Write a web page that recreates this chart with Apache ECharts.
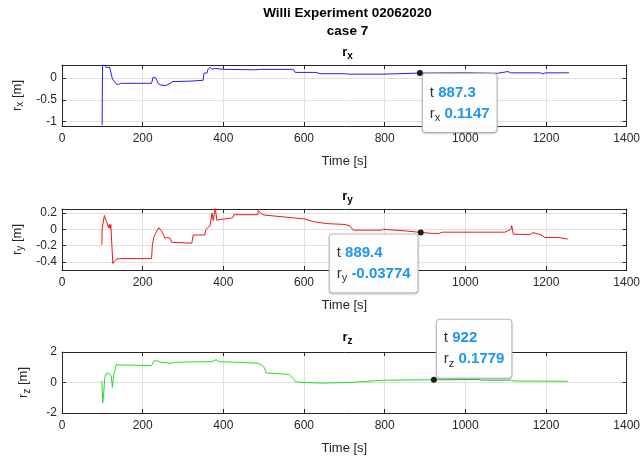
<!DOCTYPE html>
<html><head><meta charset="utf-8">
<script src="https://cdn.jsdelivr.net/npm/echarts@6/dist/echarts.min.js"></script>
<style>html,body{margin:0;padding:0;background:#fff}#c{width:643px;height:456px}</style>
</head><body><div id="c"></div>
<script>
// ---- data ----
const rxT = [99.5,100.5,104,107,110,113,118,122,125,130,135,140,145,222,226,230,233,238,244,258,268,275,320,350,352,360,362,367,372,380,400,480,490,574,578,630,640,700,712,796,800,887.3,1000,1080,1106,1112,1185,1192,1200,1257];
const rxV = [-1.08,0.30,0.27,0.29,0.24,0.27,0.25,0.26,-0.02,-0.08,-0.14,-0.15,-0.12,-0.12,0.02,-0.02,0.0,-0.12,-0.16,-0.17,-0.12,-0.08,-0.07,-0.05,0.11,0.12,0.20,0.25,0.20,0.22,0.20,0.19,0.20,0.20,0.13,0.13,0.10,0.10,0.09,0.09,0.12,0.1147,0.12,0.11,0.15,0.12,0.12,0.10,0.12,0.12];
const ryT = [98.8,99.5,101,105,109,112,115,117,119,121,123,126,130,135,140,222,224,227,231,240,245,250,255,262,268,272,276,322,325,354,357,367,372,375,380,384,390,423,426,485,487,495,503,575,604,624,657,702,714,722,792,797,800,853,889.4,918,935,943,1098,1113,1115,1119,1160,1168,1172,1190,1196,1230,1254];
const ryV = [-0.19,0.0,0.05,0.17,0.11,0.08,0.02,0.06,0.01,0.06,0.05,-0.42,-0.39,-0.37,-0.36,-0.36,-0.2,-0.11,-0.06,0.02,-0.01,-0.05,-0.11,-0.10,-0.11,-0.16,-0.17,-0.17,-0.07,-0.07,0.0,0.045,0.2,0.11,0.26,0.11,0.12,0.14,0.18,0.18,0.23,0.19,0.175,0.14,0.126,0.094,0.07,0.06,0.04,-0.01,-0.01,0.0,-0.02,-0.02,-0.03774,-0.05,-0.05,-0.035,-0.035,0.0,0.045,-0.06,-0.065,-0.04,-0.06,-0.07,-0.10,-0.10,-0.12];
const rzT = [99,101,104,106,109,115,119,122,125,128,131,134,138,222,228,236,244,270,280,372,382,390,485,497,502,506,563,575,579,597,647,714,718,796,800,922,1033,1040,1115,1120,1254];
const rzV = [0.1,-1.33,-0.5,0.32,0.57,0.63,0.74,0.43,-0.32,0.5,0.74,1.16,1.12,1.11,1.41,1.43,1.33,1.26,1.33,1.37,1.5,1.37,1.27,1.1,0.95,0.63,0.53,0.21,0.04,0.0,-0.04,0.0,0.1,0.15,0.21,0.1779,0.2,0.15,0.15,0.1,0.08];
const xTicks = [0,200,400,600,800,1000,1200,1400];
const rxTicks = [-1,-0.5,0];
const ryTicks = [-0.4,-0.2,0,0.2];
const rzTicks = [-2,0,2];
const tips = [
  {t: 887.3, v: 0.1147, tStr: '887.3', vStr: '0.1147', sub: 'x'},
  {t: 889.4, v: -0.03774, tStr: '889.4', vStr: '-0.03774', sub: 'y'},
  {t: 922, v: 0.1779, tStr: '922', vStr: '0.1779', sub: 'z'}
];
const mainTitle = 'Willi Experiment 02062020';
const subTitle = 'case 7';
const xName = 'Time [s]';

// ---- chart ----
const FONT = '"Liberation Sans", Arial, Helvetica, sans-serif';
const AX = '#262626';
const GRIDC = '#e0e0e0';
const pair = (T, V) => T.map((t, i) => [t, V[i]]);
const fmt = v => String(Math.round(v * 1000) / 1000);

const grids = [
  {left: 62, width: 571, top: 65, height: 61},
  {left: 62, width: 571, top: 209, height: 61},
  {left: 62, width: 571, top: 352, height: 63}
];
const yRanges = [[-1.1, 0.3, rxTicks], [-0.5, 0.25, ryTicks], [-2, 2, rzTicks]];
const subs = ['x', 'y', 'z'];
const colors = ['#2020f0', '#ee1515', '#22dd22'];
const datas = [pair(rxT, rxV), pair(ryT, ryV), pair(rzT, rzV)];

const richName = {
  a: {fontSize: 13, color: AX, fontFamily: FONT},
  s: {fontSize: 10, color: AX, fontFamily: FONT, padding: [7, 0, 0, 0]}
};
const richTitle = {
  a: {fontSize: 13, fontWeight: 'bold', color: '#000', fontFamily: FONT},
  s: {fontSize: 10, fontWeight: 'bold', color: '#000', fontFamily: FONT, padding: [8, 0, 0, 0]}
};

const xAxis = [], yAxis = [], series = [];
grids.forEach((g, i) => {
  xAxis.push({
    type: 'value', gridIndex: i, min: 0, max: 1400, position: 'bottom',
    name: xName, nameLocation: 'middle', nameGap: 29,
    nameTextStyle: {fontSize: 13, color: AX, fontFamily: FONT},
    axisLine: {show: true, onZero: false, lineStyle: {color: AX, width: 1}},
    axisTick: {show: true, inside: true, length: 4, lineStyle: {color: AX}, customValues: xTicks},
    axisLabel: {fontSize: 12, color: AX, fontFamily: FONT, margin: 7, customValues: xTicks, formatter: fmt},
    splitLine: {show: true, lineStyle: {color: GRIDC, width: 1}}
  });
  xAxis.push({
    type: 'value', gridIndex: i, min: 0, max: 1400, position: 'top',
    axisLine: {show: true, onZero: false, lineStyle: {color: AX, width: 1}},
    axisTick: {show: true, inside: true, length: 4, lineStyle: {color: AX}, customValues: xTicks},
    axisLabel: {show: false, customValues: xTicks}, splitLine: {show: false}
  });
  const [mn, mx, tk] = yRanges[i];
  yAxis.push({
    type: 'value', gridIndex: i, min: mn, max: mx, position: 'left',
    name: '{a|r}{s|' + subs[i] + '}{a| [m]}', nameLocation: 'middle', nameGap: 30, nameRotate: 90,
    nameTextStyle: {rich: richName},
    axisLine: {show: true, onZero: false, lineStyle: {color: AX, width: 1}},
    axisTick: {show: true, inside: true, length: 4, lineStyle: {color: AX}, customValues: tk},
    axisLabel: {fontSize: 12, color: AX, fontFamily: FONT, margin: 5, customValues: tk, formatter: fmt},
    splitLine: {show: true, lineStyle: {color: GRIDC, width: 1}}
  });
  yAxis.push({
    type: 'value', gridIndex: i, min: mn, max: mx, position: 'right',
    axisLine: {show: true, onZero: false, lineStyle: {color: AX, width: 1}},
    axisTick: {show: true, inside: true, length: 4, lineStyle: {color: AX}, customValues: tk},
    axisLabel: {show: false, customValues: tk}, splitLine: {show: false}
  });
});

const tipPos = [
  {position: [6, 4], verticalAlign: 'top'},
  {position: [-88, 5], verticalAlign: 'top'},
  {position: [6, 1], verticalAlign: 'bottom'}
];
grids.forEach((g, i) => {
  const tp = tips[i];
  series.push({
    type: 'line', xAxisIndex: 2 * i, yAxisIndex: 2 * i, data: datas[i],
    showSymbol: false, animation: false, silent: true,
    lineStyle: {color: colors[i], width: 1},
    markPoint: {
      symbol: 'circle', symbolSize: 6, animation: false,
      itemStyle: {color: '#1a1a1a'},
      data: [{coord: [tp.t, tp.v],
        label: {
          show: true, position: tipPos[i].position, align: 'left', verticalAlign: tipPos[i].verticalAlign,
          formatter: '{k|t }{v|' + tp.tStr + '}\n{k|r}{ks|' + tp.sub + '}{v| ' + tp.vStr + '}',
          backgroundColor: 'rgba(255,255,255,0.96)', borderColor: '#bdbdbd', borderWidth: 1, borderRadius: 3,
          padding: [8, 7, 8, 7],
          shadowColor: 'rgba(0,0,0,0.15)', shadowBlur: 2, shadowOffsetY: 1,
          rich: {
            k: {fontSize: 15, color: '#333', fontFamily: FONT, lineHeight: 21},
            ks: {fontSize: 11, color: '#333', fontFamily: FONT, lineHeight: 21, padding: [9, 0, 0, 0]},
            v: {fontSize: 15, color: '#1e96f0', fontWeight: 'bold', fontFamily: FONT, lineHeight: 21}
          }
        }
      }]
    }
  });
});

const titleGraphics = [
  {type: 'text', x: 347.5, y: 13, style: {text: mainTitle, font: 'bold 13.5px ' + FONT, fill: '#000', textAlign: 'center', textVerticalAlign: 'middle'}},
  {type: 'text', x: 347.5, y: 31, style: {text: subTitle, font: 'bold 13.5px ' + FONT, fill: '#000', textAlign: 'center', textVerticalAlign: 'middle'}}
];
const subTitleY = [52, 196, 337];
subTitleY.forEach((y, i) => {
  titleGraphics.push({type: 'text', x: 347.5, y: y, style: {text: '{a|r}{s|' + subs[i] + '}', rich: richTitle, textAlign: 'center', textVerticalAlign: 'middle'}});
});

const chart = echarts.init(document.getElementById('c'), null, {renderer: 'canvas'});
chart.setOption({
  backgroundColor: '#fff', animation: false,
  grid: grids, xAxis: xAxis, yAxis: yAxis, series: series,
  graphic: titleGraphics
});
</script></body></html>
